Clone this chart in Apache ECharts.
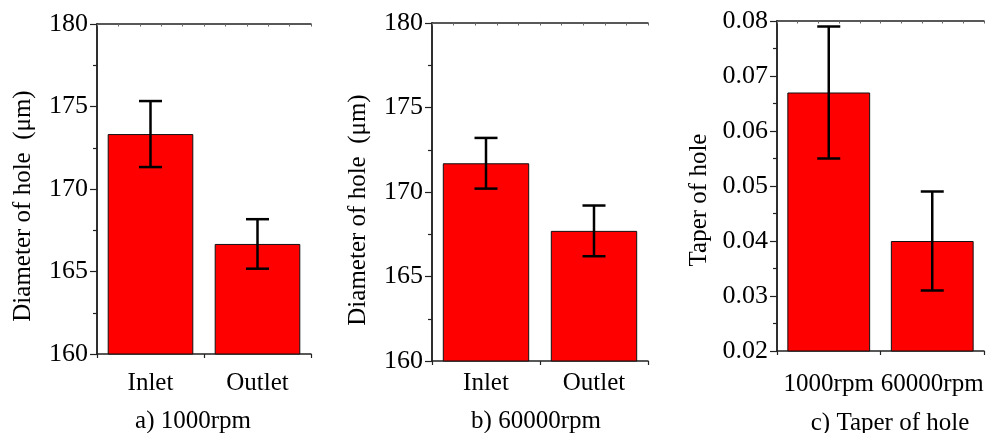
<!DOCTYPE html>
<html lang="en">
<head>
  <meta charset="utf-8">
  <script src="https://cdn.jsdelivr.net/npm/echarts@6/dist/echarts.min.js"></script>
</head>
<body style="margin:0">
  <div id="main" style="width:994px;height:433px"></div>
  <script>
    // data
    var cats1 = ['Inlet', 'Outlet'];
    var mean1 = [173.33, 166.67];
    var err1 = [2.0, 1.5];

    var cats2 = ['Inlet', 'Outlet'];
    var mean2 = [171.7, 167.7];
    var err2 = [1.5, 1.5];

    var cats3 = ['1000rpm', '60000rpm'];
    var mean3 = [0.067, 0.040];
    var err3 = [0.012, 0.009];

    var captions = ['a) 1000rpm', 'b) 60000rpm', 'c) Taper of hole'];
    var yNames = ['Diameter of hole  (\u03bcm)', 'Diameter of hole  (\u03bcm)', 'Taper of hole'];

    var font = 'Liberation Serif';
    var fs = 25;
    var lineCol = '#222';

    var grids = [
      { left: 97, top: 24, width: 214, height: 330 },
      { left: 432, top: 23, width: 216, height: 338 },
      { left: 777, top: 21, width: 207, height: 330 }
    ];
    var yRanges = [[160, 180, 5], [160, 180, 5], [0.02, 0.08, 0.01]];
    var yNamePos = [[23, 206], [358, 210], [699, 200]];
    var labelMargins = [17, 10, 21];
    var capPos = [[193, 421], [536, 421], [890, 423]];
    var cats = [cats1, cats2, cats3];
    var means = [mean1, mean2, mean3];
    var errs = [err1, err2, err3];

    var chart = echarts.init(document.getElementById('main'));

    var xAxis = [], yAxis = [], series = [], graphic = [];

    function errItem(params, api) {
      var x = api.value(0);
      var top = api.coord([x, api.value(2)]);
      var bot = api.coord([x, api.value(1)]);
      var hw = 11.5;
      var st = { stroke: '#000', lineWidth: 2.5 };
      return {
        type: 'group',
        children: [
          { type: 'line', shape: { x1: top[0], y1: top[1], x2: bot[0], y2: bot[1] }, style: st },
          { type: 'line', shape: { x1: top[0] - hw, y1: top[1], x2: top[0] + hw, y2: top[1] }, style: st },
          { type: 'line', shape: { x1: bot[0] - hw, y1: bot[1], x2: bot[0] + hw, y2: bot[1] }, style: st }
        ]
      };
    }

    for (var i = 0; i < 3; i++) {
      var r = yRanges[i];
      // bottom category axis (ticks at centres)
      xAxis.push({
        type: 'category', gridIndex: i, data: cats[i], position: 'bottom',
        axisLine: { lineStyle: { color: lineCol, width: 1.5 } },
        axisTick: { alignWithLabel: true, length: 7, lineStyle: { color: lineCol, width: 1.2 } },
        axisLabel: { interval: 0, hideOverlap: false, fontFamily: font, fontSize: fs, color: '#000', margin: labelMargins[i] }
      });
      // bottom boundary ticks
      xAxis.push({
        type: 'value', gridIndex: i, min: 0, max: 2, interval: 1, position: 'bottom',
        axisLine: { show: false }, splitLine: { show: false }, axisLabel: { show: false },
        axisTick: { length: 4, lineStyle: { color: lineCol, width: 1.2 } }
      });
      // top frame with small inward ticks
      xAxis.push({
        type: 'value', gridIndex: i, min: 0, max: 10, interval: 1, position: 'top',
        axisLine: { show: true, lineStyle: { color: lineCol, width: 1.5 } },
        splitLine: { show: false }, axisLabel: { show: false },
        axisTick: { inside: true, length: 2.5, lineStyle: { color: '#666', width: 1 } }
      });

      yAxis.push({
        type: 'value', gridIndex: i, min: r[0], max: r[1], interval: r[2], position: 'left',
        axisLine: { show: true, lineStyle: { color: lineCol, width: 1.5 } },
        axisTick: { show: true, length: 7, lineStyle: { color: lineCol, width: 1.2 } },
        minorTick: { show: true, splitNumber: 2, length: 4, lineStyle: { color: lineCol, width: 1.2 } },
        splitLine: { show: false },
        axisLabel: {
          fontFamily: font, fontSize: 26, color: '#000', margin: 9,
          formatter: i === 2 ? function (v) { return v.toFixed(2); } : '{value}'
        }
      });
      yAxis.push({
        type: 'value', gridIndex: i, min: r[0], max: r[1], interval: r[2], position: 'right',
        axisLine: { show: true, lineStyle: { color: lineCol, width: 1.5 } },
        axisTick: { show: true, inside: true, length: 5, lineStyle: { color: lineCol, width: 1 } },
        minorTick: { show: true, splitNumber: 2, length: 3, lineStyle: { color: lineCol, width: 1 } },
        splitLine: { show: false }, axisLabel: { show: false }
      });

      series.push({
        type: 'bar', xAxisIndex: i * 3, yAxisIndex: i * 2,
        data: means[i], barWidth: '80%',
        itemStyle: { color: '#ff0000', borderColor: '#111', borderWidth: 1 },
        silent: true
      });

      var ed = [];
      for (var k = 0; k < means[i].length; k++) {
        ed.push([k, means[i][k] - errs[i][k], means[i][k] + errs[i][k]]);
      }
      series.push({
        type: 'custom', xAxisIndex: i * 3, yAxisIndex: i * 2,
        renderItem: errItem, data: ed, z: 5, silent: true
      });

      // caption under each panel
      graphic.push({
        type: 'text', x: capPos[i][0], y: capPos[i][1],
        style: {
          text: captions[i], fontFamily: font, fontSize: fs, fill: '#000',
          align: 'center', verticalAlign: 'middle'
        }
      });
      // y axis title
      graphic.push({
        type: 'text', x: yNamePos[i][0], y: yNamePos[i][1], rotation: Math.PI / 2,
        style: {
          text: yNames[i], fontFamily: font, fontSize: fs, fill: '#000',
          align: 'center', verticalAlign: 'middle'
        }
      });
    }

    chart.setOption({
      animation: false,
      grid: grids,
      xAxis: xAxis,
      yAxis: yAxis,
      series: series,
      graphic: graphic
    });
  </script>
</body>
</html>
